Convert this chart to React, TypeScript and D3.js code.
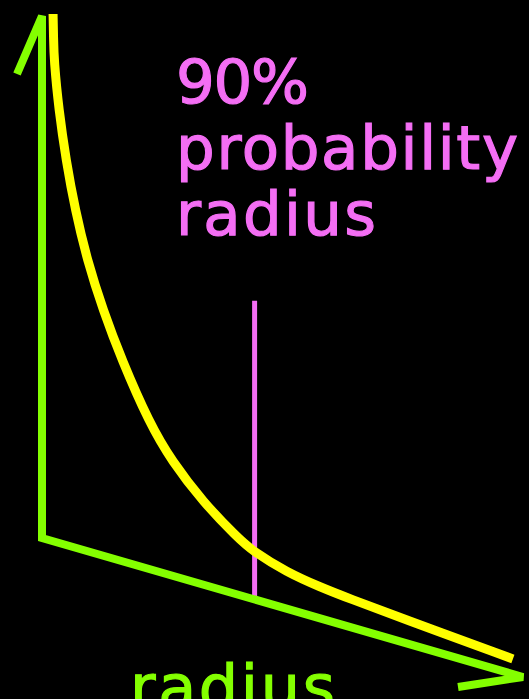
import React from "react";
import * as d3 from "d3";

// radius (x, 0..100) and probability density (y, 0..100) of the yellow curve
const radius = [2.3, 2.4, 2.5, 3.5, 5.0, 6.9, 9.4, 12.7, 16.6, 22.3, 27.0, 33.5, 40.5, 43.9, 50.9, 57.8, 64.0, 74.4, 97.9];
const density = [101.0, 96.5, 92.2, 82.9, 73.7, 64.7, 55.7, 47.0, 38.5, 28.0, 21.9, 15.8, 11.0, 9.1, 7.0, 6.0, 5.4, 4.6, 2.9];

// 90% probability radius marker
const markerRadius = 44.2;
const markerHeight = 57.2;

const titleLines = ["90%", "probability", "radius"];
const axisLabel = "radius";

const W = 529;
const H = 699;
const GREEN = "#84ff00";
const YELLOW = "#ffff00";
const MAGENTA = "#f46ef4";

export default function App() {
  const x = d3.scaleLinear().domain([0, 100]).range([42, 523]);
  const h = d3.scaleLinear().domain([0, 100]).range([0, 522]);
  // baseline is slanted: screen y of zero grows with x
  const base = d3.scaleLinear().domain([0, 100]).range([538, 677]);
  const sy = (r: number, v: number) => base(r) - h(v);

  const pts: [number, number][] = radius.map((r, i) => [r, density[i]]);
  const curve = d3
    .line<[number, number]>()
    .x((d) => x(d[0]))
    .y((d) => sy(d[0], d[1]))
    .curve(d3.curveBasis)(pts) as string;

  const axisPath = d3.path();
  axisPath.moveTo(x(0) - 25, sy(0, 100) + 58);
  axisPath.lineTo(x(0), sy(0, 100));
  axisPath.lineTo(x(0), sy(0, 0));
  axisPath.lineTo(x(100), sy(100, 0));
  axisPath.lineTo(x(100) - 65, sy(100, 0) + 10);

  const mx = x(markerRadius);
  const titleLengths = [133, 342, 200];

  return (
    <svg
      width={W}
      height={H}
      style={{ position: "fixed", left: 0, top: 0, background: "#000", display: "block" }}
    >
      <rect x={0} y={0} width={W} height={H} fill="#000" />
      <line
        x1={mx}
        x2={mx}
        y1={sy(markerRadius, 0)}
        y2={sy(markerRadius, markerHeight)}
        stroke={MAGENTA}
        strokeWidth={5}
      />
      <path d={curve} fill="none" stroke={YELLOW} strokeWidth={9} strokeLinecap="butt" />
      <path
        d={axisPath.toString()}
        fill="none"
        stroke={GREEN}
        strokeWidth={8}
        strokeLinejoin="miter"
        strokeLinecap="butt"
      />
      <g fontFamily="DejaVu Sans" fontSize={61} fill={MAGENTA} stroke={MAGENTA} strokeWidth={1.2}>
        {titleLines.map((t, i) => (
          <text
            key={t}
            x={176}
            y={103 + i * 66}
            textLength={titleLengths[i]}
            lengthAdjust="spacing"
          >
            {t}
          </text>
        ))}
      </g>
      <text
        x={130}
        y={709}
        fontFamily="DejaVu Sans"
        fontSize={62}
        fill={GREEN}
        stroke={GREEN}
        strokeWidth={1.2}
        textLength={205}
        lengthAdjust="spacing"
      >
        {axisLabel}
      </text>
    </svg>
  );
}
